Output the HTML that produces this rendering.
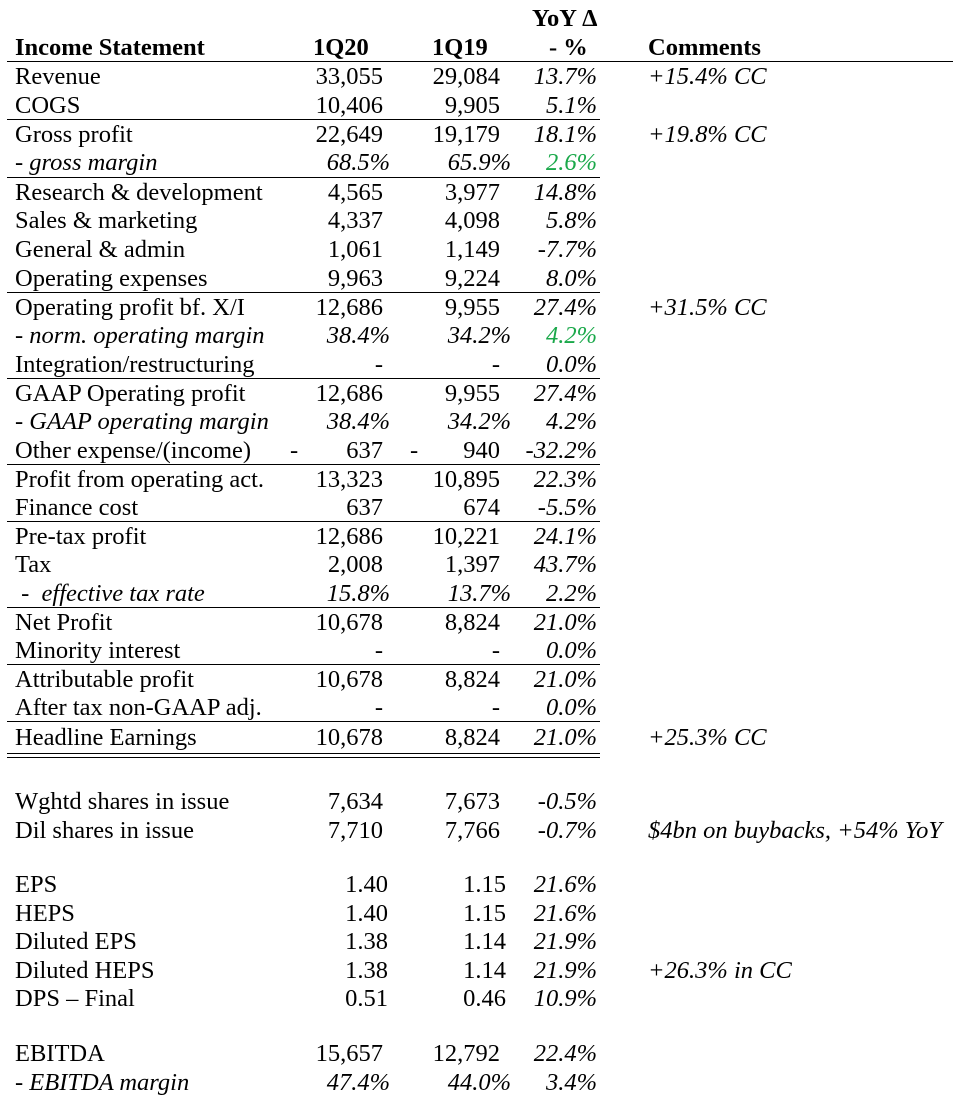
<!DOCTYPE html><html><head><style>
body{margin:0;width:961px;height:1099px;background:#fff;position:relative;font-family:"Liberation Serif",serif;font-size:24.5px;color:#000;overflow:hidden}
.r{position:absolute;left:0;width:961px;height:29px;line-height:29px}
.r span{position:absolute;white-space:nowrap}
.l{left:15px}
.a{right:578px;text-align:right}
.b{right:461px;text-align:right}
.c{right:364px;text-align:right;font-style:italic}
.ap{right:571px;font-style:italic}
.bp{right:450px;font-style:italic}
.m{left:648px;font-style:italic}
i{font-style:italic}
.g{color:#1aa84a}
.ln{position:absolute;left:7px;width:593px;height:0;border-top:1.5px solid #000}
.h{font-weight:bold;position:absolute;white-space:nowrap}
</style></head><body>
<div class="h" style="left:532px;top:4px;line-height:29px">YoY Δ</div>
<div class="h" style="left:15px;top:33px;line-height:29px">Income Statement</div>
<div class="h" style="left:313px;top:33px;line-height:29px">1Q20</div>
<div class="h" style="left:432px;top:33px;line-height:29px">1Q19</div>
<div class="h" style="left:549px;top:33px;line-height:29px">- %</div>
<div class="h" style="left:648px;top:33px;line-height:29px">Comments</div>
<div class="ln" style="top:61px;width:946px"></div>

<div class="r" style="top:62px"><span class="l">Revenue</span><span class="a">33,055</span><span class="b">29,084</span><span class="c">13.7%</span><span class="m">+15.4% CC</span></div>
<div class="r" style="top:91px"><span class="l">COGS</span><span class="a">10,406</span><span class="b">9,905</span><span class="c">5.1%</span></div>
<div class="ln" style="top:119px"></div>
<div class="r" style="top:120px"><span class="l">Gross profit</span><span class="a">22,649</span><span class="b">19,179</span><span class="c">18.1%</span><span class="m">+19.8% CC</span></div>
<div class="r" style="top:148px"><span class="l"><i>- gross margin</i></span><span class="ap">68.5%</span><span class="bp">65.9%</span><span class="c g">2.6%</span></div>
<div class="ln" style="top:177px"></div>
<div class="r" style="top:178px"><span class="l">Research &amp; development</span><span class="a">4,565</span><span class="b">3,977</span><span class="c">14.8%</span></div>
<div class="r" style="top:206px"><span class="l">Sales &amp; marketing</span><span class="a">4,337</span><span class="b">4,098</span><span class="c">5.8%</span></div>
<div class="r" style="top:235px"><span class="l">General &amp; admin</span><span class="a">1,061</span><span class="b">1,149</span><span class="c">-7.7%</span></div>
<div class="r" style="top:264px"><span class="l">Operating expenses</span><span class="a">9,963</span><span class="b">9,224</span><span class="c">8.0%</span></div>
<div class="ln" style="top:292px"></div>
<div class="r" style="top:293px"><span class="l">Operating profit bf. X/I</span><span class="a">12,686</span><span class="b">9,955</span><span class="c">27.4%</span><span class="m">+31.5% CC</span></div>
<div class="r" style="top:321px"><span class="l"><i>- norm. operating margin</i></span><span class="ap">38.4%</span><span class="bp">34.2%</span><span class="c g">4.2%</span></div>
<div class="r" style="top:350px"><span class="l">Integration/restructuring</span><span class="a">-</span><span class="b">-</span><span class="c">0.0%</span></div>
<div class="ln" style="top:378px"></div>
<div class="r" style="top:379px"><span class="l">GAAP Operating profit</span><span class="a">12,686</span><span class="b">9,955</span><span class="c">27.4%</span></div>
<div class="r" style="top:407px"><span class="l"><i>- GAAP operating margin</i></span><span class="ap">38.4%</span><span class="bp">34.2%</span><span class="c">4.2%</span></div>
<div class="r" style="top:436px"><span class="l">Other expense/(income)</span><span style="left:290px">-</span><span class="a">637</span><span style="left:410px">-</span><span class="b">940</span><span class="c">-32.2%</span></div>
<div class="ln" style="top:464px"></div>
<div class="r" style="top:465px"><span class="l">Profit from operating act.</span><span class="a">13,323</span><span class="b">10,895</span><span class="c">22.3%</span></div>
<div class="r" style="top:493px"><span class="l">Finance cost</span><span class="a">637</span><span class="b">674</span><span class="c">-5.5%</span></div>
<div class="ln" style="top:521px"></div>
<div class="r" style="top:522px"><span class="l">Pre-tax profit</span><span class="a">12,686</span><span class="b">10,221</span><span class="c">24.1%</span></div>
<div class="r" style="top:550px"><span class="l">Tax</span><span class="a">2,008</span><span class="b">1,397</span><span class="c">43.7%</span></div>
<div class="r" style="top:579px"><span class="l">&nbsp;- &nbsp;<i>effective tax rate</i></span><span class="ap">15.8%</span><span class="bp">13.7%</span><span class="c">2.2%</span></div>
<div class="ln" style="top:607px"></div>
<div class="r" style="top:608px"><span class="l">Net Profit</span><span class="a">10,678</span><span class="b">8,824</span><span class="c">21.0%</span></div>
<div class="r" style="top:636px"><span class="l">Minority interest</span><span class="a">-</span><span class="b">-</span><span class="c">0.0%</span></div>
<div class="ln" style="top:664px"></div>
<div class="r" style="top:665px"><span class="l">Attributable profit</span><span class="a">10,678</span><span class="b">8,824</span><span class="c">21.0%</span></div>
<div class="r" style="top:693px"><span class="l">After tax non-GAAP adj.</span><span class="a">-</span><span class="b">-</span><span class="c">0.0%</span></div>
<div class="ln" style="top:721px"></div>
<div class="r" style="top:723px"><span class="l">Headline Earnings</span><span class="a">10,678</span><span class="b">8,824</span><span class="c">21.0%</span><span class="m">+25.3% CC</span></div>
<div class="ln" style="top:753px"></div>
<div class="ln" style="top:757px"></div>

<div class="r" style="top:787px"><span class="l">Wghtd shares in issue</span><span class="a">7,634</span><span class="b">7,673</span><span class="c">-0.5%</span></div>
<div class="r" style="top:816px"><span class="l">Dil shares in issue</span><span class="a">7,710</span><span class="b">7,766</span><span class="c">-0.7%</span><span class="m">$4bn on buybacks, +54% YoY</span></div>

<div class="r" style="top:870px"><span class="l">EPS</span><span class="a" style="right:573px">1.40</span><span class="b" style="right:455px">1.15</span><span class="c">21.6%</span></div>
<div class="r" style="top:899px"><span class="l">HEPS</span><span class="a" style="right:573px">1.40</span><span class="b" style="right:455px">1.15</span><span class="c">21.6%</span></div>
<div class="r" style="top:927px"><span class="l">Diluted EPS</span><span class="a" style="right:573px">1.38</span><span class="b" style="right:455px">1.14</span><span class="c">21.9%</span></div>
<div class="r" style="top:956px"><span class="l">Diluted HEPS</span><span class="a" style="right:573px">1.38</span><span class="b" style="right:455px">1.14</span><span class="c">21.9%</span><span class="m">+26.3% in CC</span></div>
<div class="r" style="top:984px"><span class="l">DPS – Final</span><span class="a" style="right:573px">0.51</span><span class="b" style="right:455px">0.46</span><span class="c">10.9%</span></div>

<div class="r" style="top:1039px"><span class="l">EBITDA</span><span class="a">15,657</span><span class="b">12,792</span><span class="c">22.4%</span></div>
<div class="r" style="top:1068px"><span class="l"><i>- EBITDA margin</i></span><span class="ap">47.4%</span><span class="bp">44.0%</span><span class="c">3.4%</span></div>
</body></html>
